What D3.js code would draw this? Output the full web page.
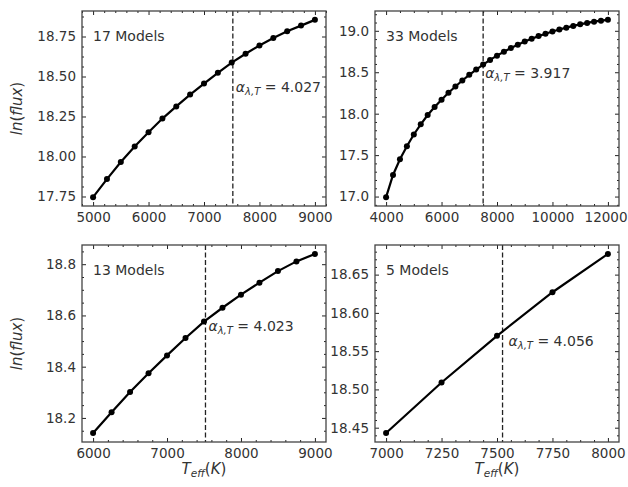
<!DOCTYPE html>
<html>
<head>
<meta charset="utf-8">
<title>ln(flux) vs Teff</title>
<style>
  body { margin: 0; background: #fff; }
  svg { font-family: "DejaVu Sans", sans-serif; }
</style>
</head>
<body>
<svg width="628" height="487"></svg>
<script src="https://d3js.org/d3.v7.min.js"></script>
<script>
// data
const teff17 = [5000, 5250, 5500, 5750, 6000, 6250, 6500, 6750, 7000, 7250, 7500, 7750, 8000, 8250, 8500, 8750, 9000]
const flux17 = [17.746, 17.859, 17.966, 18.063, 18.152, 18.237, 18.313, 18.387, 18.456, 18.523, 18.587, 18.642, 18.694, 18.741, 18.783, 18.818, 18.854]

const teff33 = [4000, 4250, 4500, 4750, 5000, 5250, 5500, 5750, 6000, 6250, 6500, 6750, 7000, 7250, 7500, 7750,
    8000, 8250, 8500, 8750, 9000, 9250, 9500, 9750, 10000, 10250, 10500, 10750, 11000, 11250, 11500, 11750, 12000]
const flux33 = [16.993, 17.26, 17.449, 17.608, 17.749, 17.872, 17.984, 18.080, 18.169, 18.253, 18.328, 18.400, 18.469, 18.532, 18.592, 18.649,
    18.700, 18.748, 18.793, 18.832, 18.870, 18.904, 18.936, 18.964, 18.991, 19.015, 19.038, 19.059, 19.078, 19.095, 19.110, 19.122, 19.132]

const teff13 = [6000, 6250, 6500, 6750, 7000, 7250, 7500, 7750, 8000, 8250, 8500, 8750, 9000]
const flux13 = [18.141, 18.222, 18.301, 18.374, 18.444, 18.512, 18.576, 18.630, 18.681, 18.728, 18.773, 18.811, 18.840]

const teff5 = [7000, 7250, 7500, 7750, 8000]
const flux5 = [18.443, 18.509, 18.570, 18.627, 18.677]

const modelLabels = ["17 Models", "33 Models", "13 Models", "5 Models"]
const alphaValues = ["4.027", "3.917", "4.023", "4.056"]
const lineTeff = [7520, 7500, 7520, 7525]

const xTicks = [
    [5000, 6000, 7000, 8000, 9000],
    [4000, 6000, 8000, 10000, 12000],
    [6000, 7000, 8000, 9000],
    [7000, 7250, 7500, 7750, 8000]
]
const yTicks = [
    [17.75, 18.00, 18.25, 18.50, 18.75],
    [17.0, 17.5, 18.0, 18.5, 19.0],
    [18.2, 18.4, 18.6, 18.8],
    [18.45, 18.50, 18.55, 18.60, 18.65]
]
const yFormats = [".2f", ".1f", ".1f", ".2f"]

// layout
const width = 628
const boxes = [
    {left: 82, right: 326, top: 11, bottom: 206},
    {left: 375, right: 619, top: 11, bottom: 206},
    {left: 82, right: 326, top: 245, bottom: 442},
    {left: 375, right: 619, top: 245, bottom: 442}
]
const xMinor = [200, 500, 200, 62.5]
const yMinor = [0.0625, 0.1, 0.05, 0.01]
const alphaPos = [
    {y: 18.406, dx: 3},
    {y: 18.436, dx: 2},
    {y: 18.540, dx: 3},
    {y: 18.557, dx: 6}
]

const series = [[teff17, flux17], [teff33, flux33], [teff13, flux13], [teff5, flux5]]
const ink = "#222"
const textColor = "#333"
const tickFont = 13.5
const fontSize = 14

const svg = d3.select("svg")

const padded = (vals) => {
    const [lo, hi] = d3.extent(vals)
    const m = (hi - lo) * 0.05
    return [lo - m, hi + m]
}

const minorValues = (domain, step, majors) =>
    d3.range(Math.ceil(domain[0] / step - 1e-9), Math.floor(domain[1] / step + 1e-9) + 1)
        .map(k => k * step)
        .filter(v => !majors.some(m => Math.abs(m - v) < step * 0.01))

series.forEach(([teff, flux], i) => {
    const b = boxes[i]
    const x = d3.scaleLinear().domain(padded(teff)).range([b.left, b.right])
    const y = d3.scaleLinear().domain(padded(flux)).range([b.bottom, b.top])
    const g = svg.append("g")

    const xMin = minorValues(x.domain(), xMinor[i], xTicks[i])
    const yMin = minorValues(y.domain(), yMinor[i], yTicks[i])

    const styleAxis = sel => {
        sel.select(".domain").remove()
        sel.selectAll("line").attr("stroke", ink).attr("stroke-width", 1)
        sel.selectAll("text").attr("fill", textColor).attr("font-size", tickFont)
            .attr("font-family", "DejaVu Sans")
    }

    // bottom
    const bottomAxis = g.append("g").attr("transform", `translate(0,${b.bottom})`)
        .call(d3.axisBottom(x).tickValues(xTicks[i]).tickFormat(d3.format("d")).tickSize(-4).tickPadding(6.5))
        .call(styleAxis)
    // keep tick labels inside the page
    bottomAxis.selectAll(".tick").each(function (d) {
        const t = d3.select(this).select("text")
        const half = t.node().getComputedTextLength() / 2
        const over = x(d) + half - (width - 1)
        if (over > 0) t.attr("dx", -over)
    })
    g.append("g").attr("transform", `translate(0,${b.bottom})`)
        .call(d3.axisBottom(x).tickValues(xMin).tickFormat("").tickSize(-2))
        .call(styleAxis)
    // top
    g.append("g").attr("transform", `translate(0,${b.top})`)
        .call(d3.axisTop(x).tickValues(xTicks[i]).tickFormat("").tickSize(-4))
        .call(styleAxis)
    g.append("g").attr("transform", `translate(0,${b.top})`)
        .call(d3.axisTop(x).tickValues(xMin).tickFormat("").tickSize(-2))
        .call(styleAxis)
    // left
    g.append("g").attr("transform", `translate(${b.left},0)`)
        .call(d3.axisLeft(y).tickValues(yTicks[i]).tickFormat(d3.format(yFormats[i])).tickSize(-4).tickPadding(6))
        .call(styleAxis)
    g.append("g").attr("transform", `translate(${b.left},0)`)
        .call(d3.axisLeft(y).tickValues(yMin).tickFormat("").tickSize(-2))
        .call(styleAxis)
    // right
    g.append("g").attr("transform", `translate(${b.right},0)`)
        .call(d3.axisRight(y).tickValues(yTicks[i]).tickFormat("").tickSize(-4))
        .call(styleAxis)
    g.append("g").attr("transform", `translate(${b.right},0)`)
        .call(d3.axisRight(y).tickValues(yMin).tickFormat("").tickSize(-2))
        .call(styleAxis)

    // dashed marker line
    g.append("line")
        .attr("x1", x(lineTeff[i])).attr("x2", x(lineTeff[i]))
        .attr("y1", b.top).attr("y2", b.bottom)
        .attr("stroke", ink).attr("stroke-width", 1.3)
        .attr("stroke-dasharray", "5,2.5")

    // curve + points
    const pts = teff.map((t, k) => [t, flux[k]])
    g.append("path")
        .datum(pts)
        .attr("fill", "none")
        .attr("stroke", "#000")
        .attr("stroke-width", 2.2)
        .attr("d", d3.line().x(d => x(d[0])).y(d => y(d[1])))
    g.append("g").selectAll("circle")
        .data(pts)
        .join("circle")
        .attr("cx", d => x(d[0]))
        .attr("cy", d => y(d[1]))
        .attr("r", 3)
        .attr("fill", "#000")

    // spines
    g.append("rect")
        .attr("x", b.left).attr("y", b.top)
        .attr("width", b.right - b.left).attr("height", b.bottom - b.top)
        .attr("fill", "none").attr("stroke", "#444").attr("stroke-width", 1.3)

    // "N Models"
    g.append("text")
        .attr("x", b.left + 11)
        .attr("y", b.top + 30)
        .attr("font-size", fontSize)
        .attr("fill", textColor)
        .text(modelLabels[i])

    // alpha annotation
    const a = g.append("text")
        .attr("x", x(lineTeff[i]) + alphaPos[i].dx)
        .attr("y", y(alphaPos[i].y))
        .attr("font-size", fontSize)
        .attr("fill", textColor)
    a.append("tspan").attr("font-style", "italic").text("α")
    a.append("tspan").attr("font-style", "italic").attr("font-size", 10).attr("dy", 3).text("λ,T")
    a.append("tspan").attr("dy", -3).text(" = " + alphaValues[i])

    // axis labels
    if (i % 2 === 0) {
        const yl = g.append("text")
            .attr("transform", `translate(22,${(b.top + b.bottom) / 2}) rotate(-90)`)
            .attr("text-anchor", "middle")
            .attr("font-size", 15)
            .attr("fill", textColor)
        yl.append("tspan").attr("font-style", "italic").text("ln")
        yl.append("tspan").text("(")
        yl.append("tspan").attr("font-style", "italic").text("flux")
        yl.append("tspan").text(")")
    }
    if (i >= 2) {
        const xl = g.append("text")
            .attr("x", (b.left + b.right) / 2)
            .attr("y", 474)
            .attr("text-anchor", "middle")
            .attr("font-size", 15)
            .attr("fill", textColor)
        xl.append("tspan").attr("font-style", "italic").text("T")
        xl.append("tspan").attr("font-style", "italic").attr("font-size", 10.5).attr("dy", 3).text("eff")
        xl.append("tspan").attr("dy", -3).text("(")
        xl.append("tspan").attr("font-style", "italic").text("K")
        xl.append("tspan").text(")")
    }
})
</script>
</body>
</html>
